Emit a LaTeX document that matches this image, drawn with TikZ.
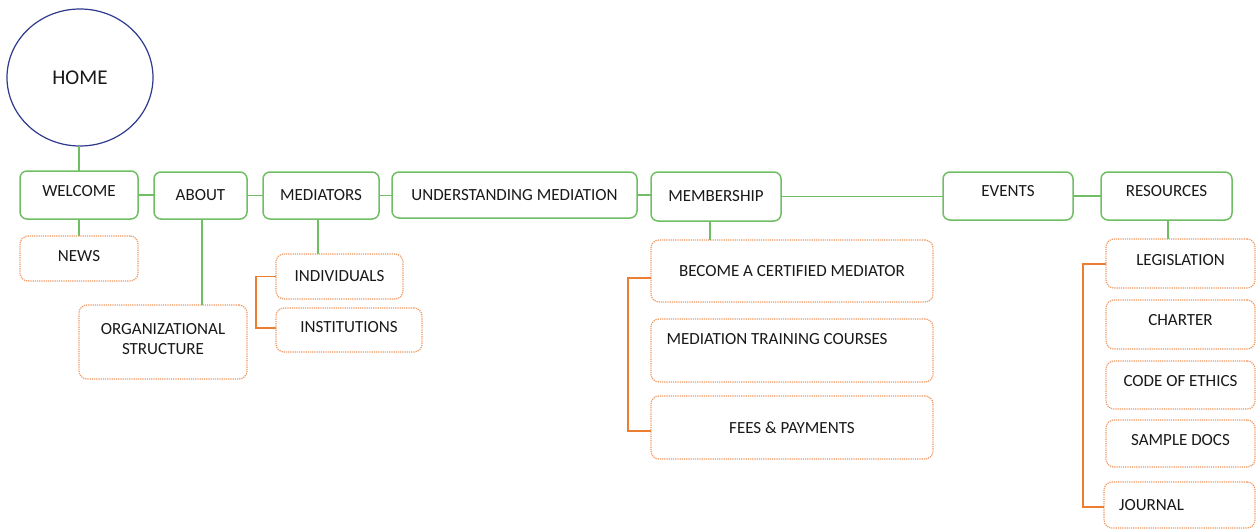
\documentclass[tikz,border=0pt]{standalone}
\usepackage{fontspec}
\setmainfont{Carlito}
\usetikzlibrary{calc,shapes.geometric}
\definecolor{gbox}{RGB}{112,190,100}
\definecolor{odot}{RGB}{240,150,95}
\definecolor{obr}{RGB}{237,125,49}
\definecolor{navy}{RGB}{46,58,140}
\definecolor{txt}{RGB}{25,25,25}
\begin{document}
\begin{tikzpicture}[x=1pt,y=-1pt,
  every node/.style={font=\fontsize{17}{20}\selectfont, text=txt, inner sep=0pt, outer sep=0pt},
  mainbox/.style={draw=gbox, line width=1.5pt, rounded corners=7pt, fill=white},
  subbox/.style={draw=odot, line width=1.2pt, dash pattern=on 1.2pt off 1pt, rounded corners=8pt, fill=white},
  glink/.style={draw=gbox, line width=1.5pt},
  olink/.style={draw=obr, line width=1.5pt}]
\useasboundingbox (0,0) rectangle (1256,530);
% home
\node[ellipse, draw=navy, line width=1.2pt, minimum width=146pt, minimum height=137pt, font=\fontsize{21}{24}\selectfont] (home) at (80,77.5) {HOME};
% main row
\node[mainbox, minimum width=118pt, minimum height=48pt] (welcome) at (79,195) {\raisebox{9pt}{WELCOME}};
\node[mainbox, minimum width=93pt, minimum height=47pt] (about) at (200.5,195.5) {ABOUT};
\node[mainbox, minimum width=116pt, minimum height=47pt] (mediators) at (321,195.5) {MEDIATORS};
\node[mainbox, minimum width=245pt, minimum height=46pt] (underst) at (514.5,195) {UNDERSTANDING MEDIATION};
\node[mainbox, minimum width=130pt, minimum height=49pt] (member) at (716,196.5) {MEMBERSHIP};
\node[mainbox, minimum width=130pt, minimum height=48pt] (events) at (1008,196) {\raisebox{10pt}{EVENTS}};
\node[mainbox, minimum width=131pt, minimum height=48pt] (resources) at (1166.5,196) {\raisebox{10pt}{RESOURCES}};
% sub boxes
\node[subbox, minimum width=118pt, minimum height=45pt] (news) at (79,258.5) {\raisebox{4.5pt}{NEWS}};
\node[subbox, minimum width=168pt, minimum height=74pt] (org) at (163,342) {\raisebox{18pt}{\begin{tabular}{@{}c@{}}ORGANIZATIONAL\\STRUCTURE\end{tabular}}};
\node[subbox, minimum width=127pt, minimum height=45pt] (indiv) at (339.5,276.5) {INDIVIDUALS};
\node[subbox, minimum width=146pt, minimum height=44pt] (instit) at (349,330) {\raisebox{7pt}{INSTITUTIONS}};
\node[subbox, minimum width=282pt, minimum height=62pt] (become) at (792,271) {BECOME A CERTIFIED MEDIATOR};
\node[subbox, minimum width=282pt, minimum height=63pt] (training) at (792,350.5) {\raisebox{23pt}{\hspace*{-30pt}MEDIATION TRAINING COURSES}};
\node[subbox, minimum width=282pt, minimum height=63pt] (fees) at (792,427.5) {FEES \& PAYMENTS};
\node[subbox, minimum width=149pt, minimum height=49pt] (legis) at (1180.5,263.5) {\raisebox{7.5pt}{LEGISLATION}};
\node[subbox, minimum width=149pt, minimum height=49pt] (charter) at (1180.5,324.5) {\raisebox{9.5pt}{CHARTER}};
\node[subbox, minimum width=149pt, minimum height=48pt] (ethics) at (1180.5,385) {\raisebox{9pt}{CODE OF ETHICS}};
\node[subbox, minimum width=149pt, minimum height=47pt] (sample) at (1180.5,443.5) {\raisebox{7.5pt}{SAMPLE DOCS}};
\node[subbox, minimum width=151pt, minimum height=46pt] (journal) at (1179.5,505) {\raisebox{-6pt}{\hspace*{-56pt}JOURNAL}};
% green connectors
\draw[glink] (welcome.north) -- (welcome.north |- home.south);
\draw[glink] (welcome.south) -- (news.north);
\draw[glink] (welcome.east) -- (welcome.east -| about.west);
\draw[glink] (about.east) -- (about.east -| mediators.west);
\draw[glink] (mediators.east) -- (mediators.east -| underst.west);
\draw[glink] (underst.east) -- (underst.east -| member.west);
\draw[glink] (member.east) -- (member.east -| events.west);
\draw[glink] (events.east) -- (events.east -| resources.west);
\draw[glink] ($(about.south)+(1.5,0)$) -- ($(about.south |- org.north)+(1.5,0)$);
\draw[glink] ($(mediators.south)+(-3,0)$) -- ($(mediators.south |- indiv.north)+(-3,0)$);
\draw[glink] ($(member.south)+(-6,0)$) -- ($(member.south |- become.north)+(-6,0)$);
\draw[glink] ($(resources.south)+(1.5,0)$) -- ($(resources.south |- legis.north)+(1.5,0)$);
% orange brackets
\draw[olink] (indiv.west) -- ++(-20,0) |- ($(instit.west)+(0,-2)$);
\draw[olink] ($(become.west)+(0,7)$) -- ++(-23,0) |- ($(fees.west)+(0,3.5)$);
\draw[olink] ($(legis.west)+(0,0.5)$) -- ++(-23,0) |- ($(journal.west)+(0,2)$);
\end{tikzpicture}
\end{document}
